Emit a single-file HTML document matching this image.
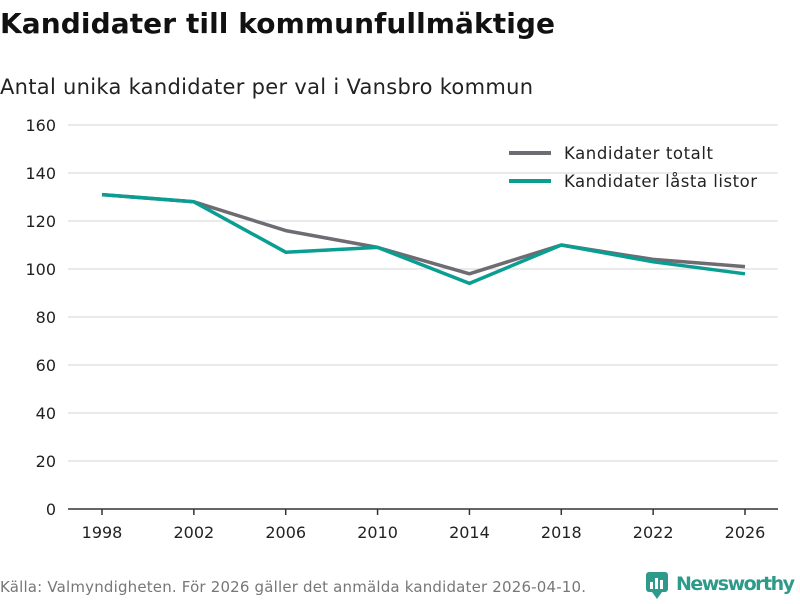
<!DOCTYPE html>
<html><head><meta charset="utf-8"><style>
body{margin:0;width:800px;height:600px;background:#fff;font-family:"DejaVu Sans","Liberation Sans",sans-serif;overflow:hidden}
text{font-family:"DejaVu Sans","Liberation Sans",sans-serif}
</style></head><body>
<svg id="c" width="800" height="600">
<text x="0" y="33" font-size="28" font-weight="bold" fill="#111" textLength="555">Kandidater till kommunfullmäktige</text>
<text x="0" y="94" font-size="21" fill="#222" textLength="533">Antal unika kandidater per val i Vansbro kommun</text>
<g id="grid"></g>
<g id="yt"></g>
<g id="xt"></g>
<g id="lines"></g>
<g>
<g><line x1="509" y1="153" x2="551" y2="153" stroke="#6e6b72" stroke-width="4"/><text x="564" y="159" font-size="16.5" fill="#222" textLength="149">Kandidater totalt</text></g>
<g><line x1="509" y1="181" x2="551" y2="181" stroke="#0a9e93" stroke-width="4"/><text x="564" y="187" font-size="16.5" fill="#222" textLength="193">Kandidater låsta listor</text></g>
</g>
<text x="0" y="592" font-size="15" fill="#777" textLength="586">Källa: Valmyndigheten. För 2026 gäller det anmälda kandidater 2026-04-10.</text>
<g>
<rect x="646" y="572" width="22" height="20" rx="3" fill="#2d9a8a"/>
<path d="M652 592 L657 599 L662 592Z" fill="#2d9a8a"/>
<rect x="650" y="582" width="3" height="7" fill="#fff"/><rect x="655" y="578" width="3" height="11" fill="#fff"/><rect x="660" y="580" width="3" height="9" fill="#fff"/>
<text x="676" y="590" font-size="19" font-weight="bold" fill="#2d9a8a" textLength="119">Newsworthy</text>
</g>
</svg>
<script>
const years=[1998,2002,2006,2010,2014,2018,2022,2026];
const totalt=[131,128,116,109,98,110,104,101];
const lasta=[131,128,107,109,94,110,103,98];
const yTicks=[0,20,40,60,80,100,120,140,160];
const NS="http://www.w3.org/2000/svg";
const x=v=>102+(v-1998)/28*643;
const y=v=>509-v*2.4;
function mk(t,a,p){const e=document.createElementNS(NS,t);for(const k in a)e.setAttribute(k,a[k]);p.appendChild(e);return e;}
const g=document.getElementById('grid'),yt=document.getElementById('yt'),xt=document.getElementById('xt'),L=document.getElementById('lines');
yTicks.forEach(t=>{
 const l=mk('line',{x1:68,x2:778,y1:y(t),y2:y(t),stroke:t===0?'#333':'#ddd','stroke-width':t===0?1.5:1.2},g);
 
 
 const tx=mk('text',{x:56,y:y(t)+6,'text-anchor':'end','font-size':16,fill:'#222'},yt);tx.textContent=t;
 
 
});
years.forEach(v=>{
 const tk=mk('line',{x1:x(v),x2:x(v),y1:509,y2:515,stroke:'#333','stroke-width':1.5},xt);
 
 
 const tx=mk('text',{x:x(v),y:538,'text-anchor':'middle','font-size':16,fill:'#222'},xt);tx.textContent=v;
 
 
});
[[totalt,'#6e6b72','line-totalt'],[lasta,'#0a9e93','line-lasta']].forEach(([d,c,n])=>{
 const p=mk('polyline',{points:d.map((v,i)=>x(years[i])+','+y(v)).join(' '),fill:'none',stroke:c,'stroke-width':3.5,'stroke-linejoin':'round'},L);
 
 
});
</script>
</body></html>
